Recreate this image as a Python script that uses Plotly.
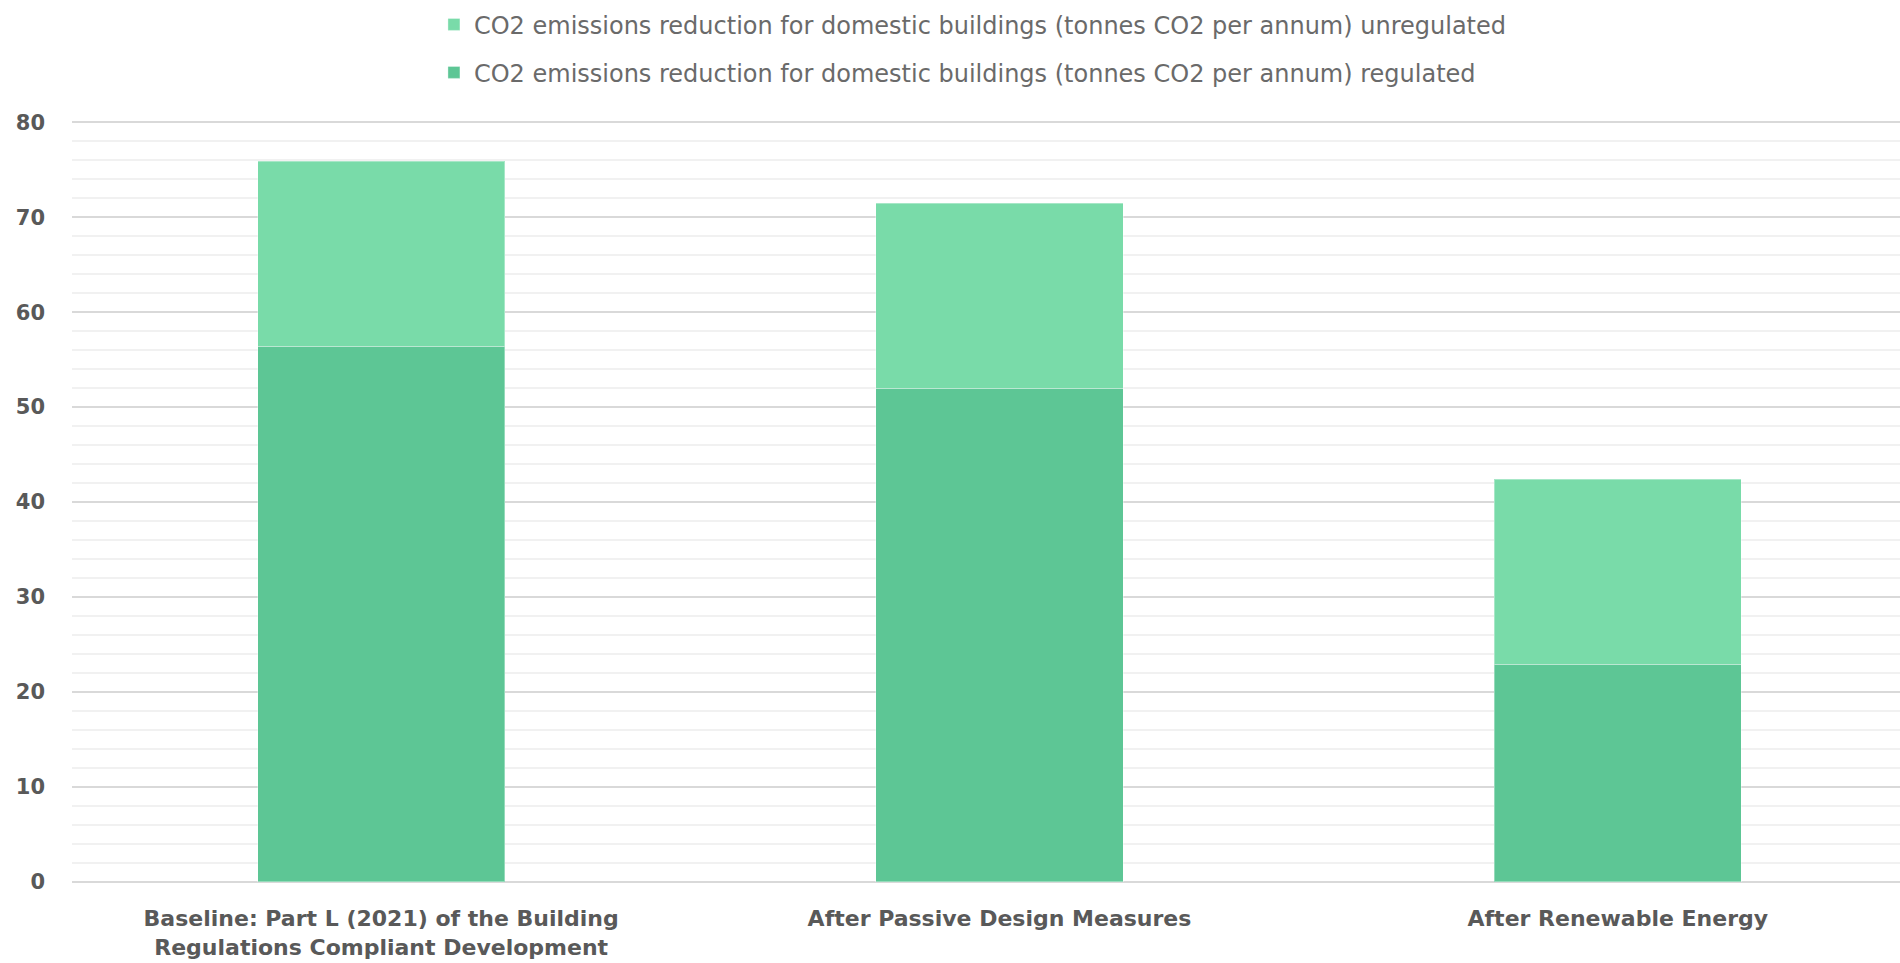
import plotly.graph_objects as go

categories = [
    "Baseline: Part L (2021) of the Building<br>Regulations Compliant Development",
    "After Passive Design Measures",
    "After Renewable Energy",
]
regulated = [56.4, 52.0, 22.9]
unregulated = [19.5, 19.5, 19.5]
y_ticks = [0, 10, 20, 30, 40, 50, 60, 70, 80]

name_unreg = "CO2 emissions reduction for domestic buildings (tonnes CO2 per annum) unregulated"
name_reg = "CO2 emissions reduction for domestic buildings (tonnes CO2 per annum) regulated"

col_reg = "#5dc695"
col_unreg = "#79dba9"
edge = dict(width=1, color="rgba(255,255,255,0.35)")

FONT = "DejaVu Sans, sans-serif"

fig = go.Figure()
fig.add_trace(go.Bar(x=categories, y=regulated, name=name_reg, marker=dict(color=col_reg, line=edge),
                     legend="legend2"))
fig.add_trace(go.Bar(x=categories, y=unregulated, name=name_unreg, marker=dict(color=col_unreg, line=edge),
                     legend="legend"))

legend_font = dict(family=FONT, size=24, color="#6a6a6a")
fig.update_layout(
    width=1900, height=963,
    margin=dict(l=72, r=0, t=120, b=79),
    barmode="stack",
    bargap=0.6,
    plot_bgcolor="white",
    paper_bgcolor="white",
    font=dict(family=FONT, color="#595959"),
    legend=dict(x=0.198, y=1.1246, xanchor="left", yanchor="middle", font=legend_font,
                bgcolor="rgba(0,0,0,0)", borderwidth=0),
    legend2=dict(x=0.198, y=1.0618, xanchor="left", yanchor="middle", font=legend_font,
                 bgcolor="rgba(0,0,0,0)", borderwidth=0),
    showlegend=True,
)
fig.update_xaxes(
    range=[-0.5, 2.4564],
    showgrid=False, zeroline=False, showline=False,
    tickfont=dict(family=FONT, size=22, color="#595959", weight="bold"),
    ticks="", ticklabelstandoff=19,
)
fig.update_yaxes(
    range=[-0.25, 80.25],
    tickvals=y_ticks,
    showgrid=True, gridcolor="#d9d9d9", gridwidth=1.5,
    minor=dict(dtick=2, showgrid=True, gridcolor="#f1f1f1", gridwidth=1.5),
    zeroline=False, showline=False,
    tickfont=dict(family=FONT, size=21, color="#595959", weight="bold"),
    ticks="", ticklabelstandoff=26,
)

fig.write_html("out.html")
